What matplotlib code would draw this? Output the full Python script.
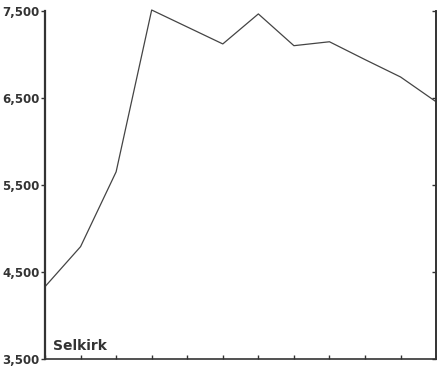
import matplotlib
matplotlib.use("Agg")
from matplotlib import pyplot as plt
from matplotlib import ticker

# values (12 equally spaced periods)
periods = list(range(12))
population = [4330, 4790, 5650, 7510, 7315, 7120, 7465, 7100, 7145, 6940, 6740, 6455]
yticks = [3500, 4500, 5500, 6500, 7500]
label = "Selkirk"

fig = plt.figure(figsize=(4.37, 3.75), dpi=100)
ax = fig.add_axes([0.103, 0.043, 0.895, 0.928])

ax.plot(periods, population, color="#444444", linewidth=0.9, clip_on=False)

ax.set_xlim(0, 11)
ax.set_ylim(3500, 7500)
ax.set_yticks(yticks)
ax.yaxis.set_major_formatter(ticker.FuncFormatter(lambda v, p: f"{int(v):,}"))
ax.set_xticks(periods)
ax.set_xticklabels([])

ax.spines["top"].set_visible(False)
for s in ["left", "bottom", "right"]:
    ax.spines[s].set_color("#333333")
    ax.spines[s].set_linewidth(1.2)
ax.spines["left"].set_linewidth(1.6)

ax.tick_params(axis="y", direction="out", length=3, width=1,
               color="#333333", pad=1, labelsize=8.5, labelcolor="#333333")
ax.tick_params(axis="x", direction="in", length=3, width=1, color="#333333")
for t in ax.get_yticklabels():
    t.set_fontweight("bold")

# inward ticks on the right-hand spine
ax2 = ax.twinx()
ax2.set_ylim(ax.get_ylim())
ax2.set_yticks(yticks)
ax2.set_yticklabels([])
ax2.tick_params(axis="y", direction="in", length=3, width=1, color="#333333")
for s in ["top", "left", "bottom"]:
    ax2.spines[s].set_visible(False)
ax2.spines["right"].set_color("#333333")
ax2.spines["right"].set_linewidth(1.2)

ax.text(0.02, 0.025, label, transform=ax.transAxes, fontsize=10,
        fontweight="bold", color="#333333")

fig.savefig("out.png", dpi=100)
